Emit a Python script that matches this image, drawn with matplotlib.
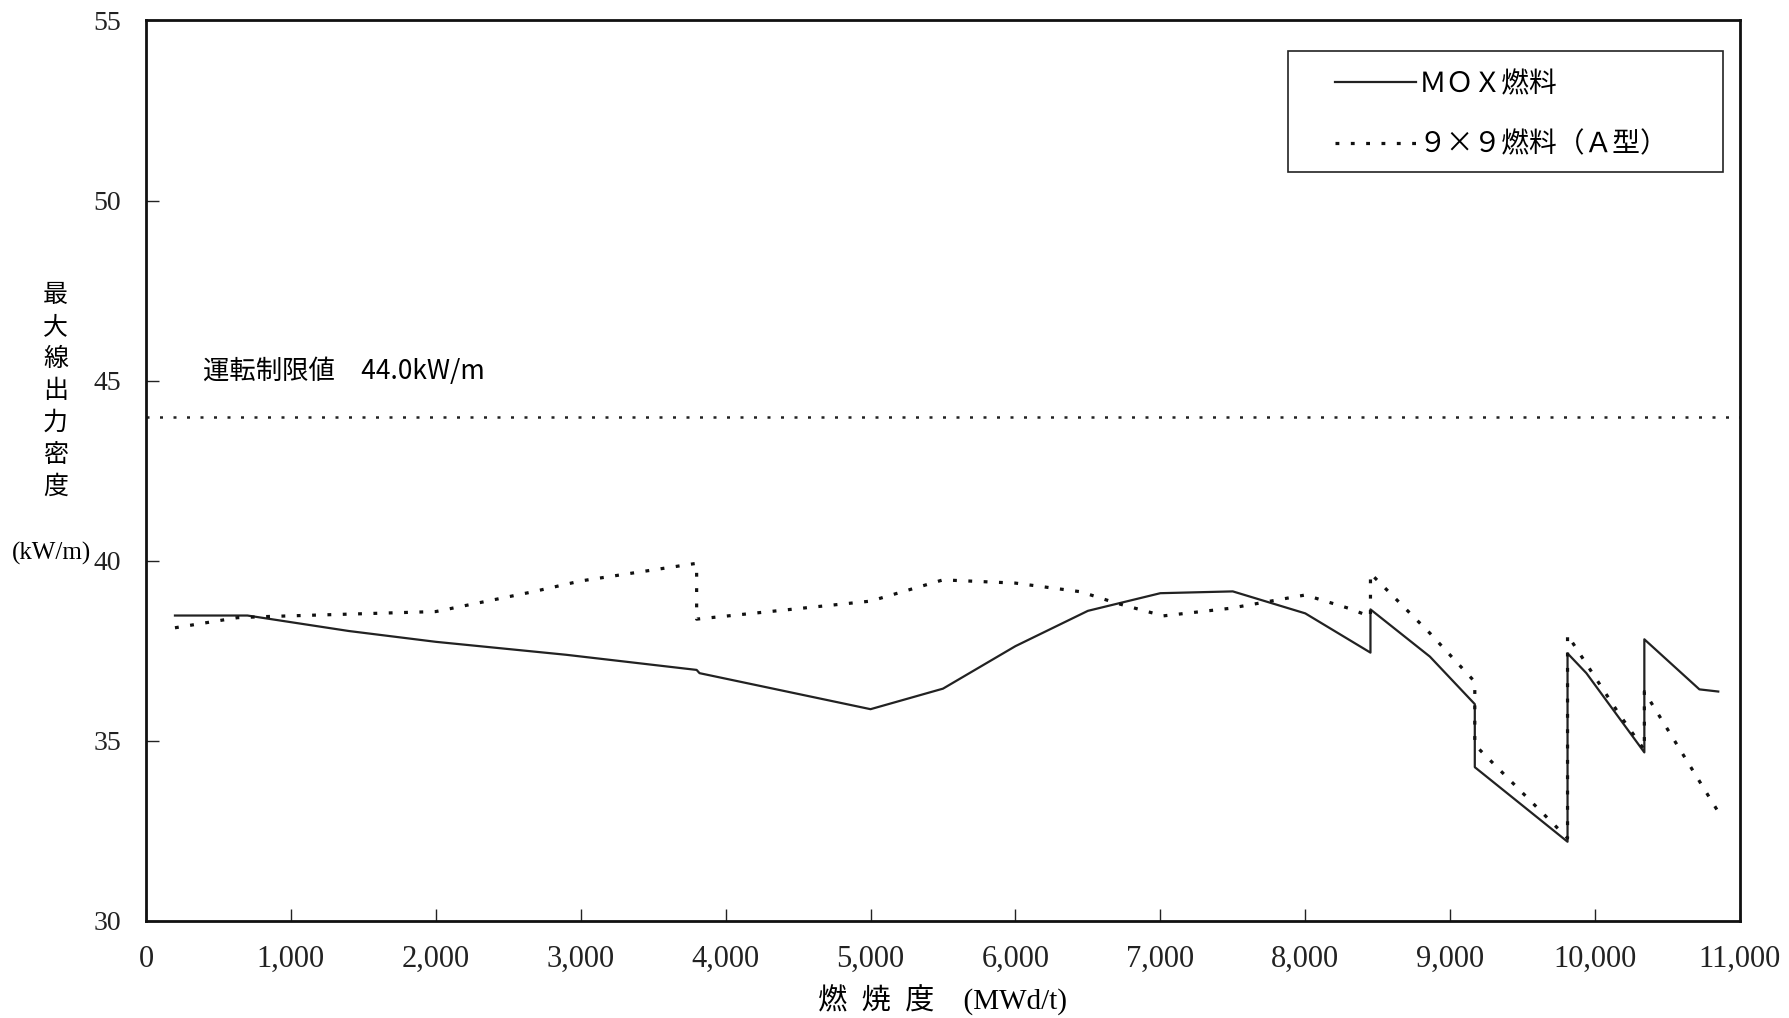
import matplotlib
matplotlib.use("Agg")
import matplotlib.pyplot as plt
from matplotlib.patches import Rectangle
from matplotlib.ticker import FuncFormatter

plt.rcParams['font.family'] = ['Liberation Serif', 'Noto Sans CJK JP', 'DejaVu Sans']

# burnup (MWd/t) and max linear heat rate (kW/m)
mox_burnup = [200, 700, 1400, 2000, 2900, 3800, 3820, 5000, 5500, 6000, 6500, 7000, 7500,
              8000, 8450, 8450, 8860, 9170, 9170, 9810, 9810, 9940, 10340, 10340, 10720, 10850]
mox_power = [38.48, 38.48, 38.05, 37.75, 37.39, 36.97, 36.88, 35.88, 36.45, 37.63, 38.61, 39.10, 39.15,
             38.54, 37.45, 38.65, 37.34, 36.02, 34.27, 32.20, 37.43, 36.88, 34.68, 37.82, 36.43, 36.37]

a9_burnup = [200, 630, 820, 2000, 2330, 2670, 3000, 3800, 3800, 5000, 5500, 6000, 6450, 6700, 7020,
             7480, 8000, 8300, 8450, 8450, 8860, 9170, 9170, 9810, 9810, 10170, 10340, 10340, 10850]
a9_power = [38.14, 38.42, 38.45, 38.59, 38.86, 39.14, 39.44, 39.93, 38.38, 38.88, 39.47, 39.38, 39.14,
            38.82, 38.47, 38.68, 39.05, 38.68, 38.45, 39.65, 37.99, 36.64, 34.89, 32.30, 37.94,
            35.72, 34.75, 36.37, 33.03]

limit_value = 44.0
limit_label = "運転制限値　44.0kW/m"

fig = plt.figure(figsize=(17.89, 10.18), dpi=100)
ax = fig.add_axes([0.0816, 0.0953, 0.891, 0.8846])

ax.plot(mox_burnup, mox_power, color="#222222", lw=1.6, label="ＭＯＸ燃料")
ax.plot(a9_burnup, a9_power, color="#111111", lw=2.3, linestyle=(0, (1.2, 3.6)),
        label="９×９燃料（Ａ型）")
ax.axhline(limit_value, color="#222222", lw=1.8, linestyle=(0, (1.2, 4.2)))
ax.text(393, 45.25, limit_label, fontsize=19, va="center", ha="left",
        family=['Noto Sans CJK JP'])

ax.set_xlim(0, 11000)
ax.set_ylim(30, 55)
ax.set_xticks(range(0, 11001, 1000))
ax.set_yticks(range(30, 56, 5))
ax.xaxis.set_major_formatter(FuncFormatter(lambda v, p: f"{int(v):,}"))
ax.tick_params(direction="in", length=9, width=1.0, colors="#222222")
ax.tick_params(axis="x", pad=17, labelsize=22)
ax.tick_params(axis="y", pad=18, labelsize=20)
for s in ax.spines.values():
    s.set_linewidth(2.0)
    s.set_color("#111111")

ax.set_xlabel("燃  焼  度　(MWd/t)", fontsize=21, labelpad=8)

# vertical y-axis label
fig.text(0.031, 0.616, "\n".join("最大線出力密度"), fontsize=18, ha="center", va="center",
         linespacing=1.3, family=['Noto Sans CJK JP'])
fig.text(0.029, 0.456, "(kW/m)", fontsize=18, ha="center", va="center")

# legend without frame, plus a separate box around it
leg = ax.legend(loc="upper left", bbox_to_anchor=(0.7459, 0.946), borderaxespad=0,
                handlelength=2.9, handletextpad=0.1, borderpad=0, labelspacing=1.1,
                frameon=False, prop={'family': ['Noto Sans CJK JP'], 'size': 20})
ax.add_patch(Rectangle((0.7165, 0.8314), 0.9893 - 0.7165, 0.9658 - 0.8314,
                       transform=ax.transAxes, fill=False, edgecolor="#222222", lw=1.2,
                       zorder=5))

fig.savefig("out.png", dpi=100, facecolor="white")
